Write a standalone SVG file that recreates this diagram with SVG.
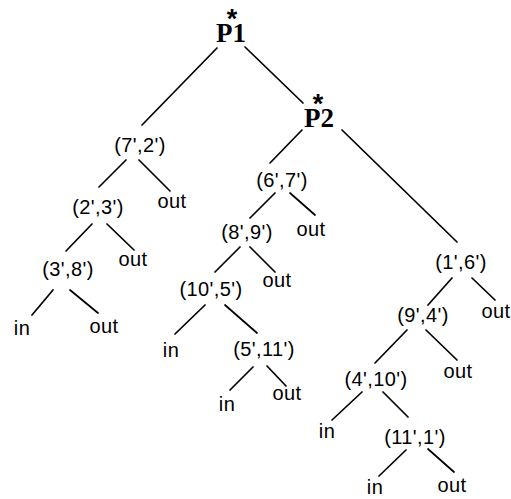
<svg xmlns="http://www.w3.org/2000/svg" width="511" height="499" viewBox="0 0 511 499">
<style>
.lbl{font-family:"Liberation Sans",Arial,sans-serif;font-size:20px;fill:#000;text-anchor:middle;letter-spacing:0.4px}
.p{font-family:"Liberation Serif","Times New Roman",serif;font-size:27px;font-weight:bold;fill:#000;text-anchor:middle}
.ast{font-family:"Liberation Sans",Arial,sans-serif;font-size:27px;font-weight:bold;fill:#000;text-anchor:middle}
.edges line{stroke:#000;stroke-width:1.7;stroke-linecap:round}
</style>
<rect width="511" height="499" fill="#fff"/>
<g class="edges" id="connectors">
<line x1="217" y1="48" x2="142" y2="125"/>
<line x1="245" y1="47" x2="303" y2="103"/>
<line x1="302" y1="130" x2="270" y2="163"/>
<line x1="342" y1="130" x2="457" y2="242"/>
<line x1="126" y1="160" x2="99" y2="187"/>
<line x1="139" y1="160" x2="170" y2="191"/>
<line x1="92" y1="224" x2="66" y2="251"/>
<line x1="107" y1="224" x2="134" y2="250"/>
<line x1="53" y1="290" x2="32" y2="315"/>
<line x1="70" y1="290" x2="98" y2="313"/>
<line x1="275" y1="193" x2="250" y2="218"/>
<line x1="290" y1="193" x2="315" y2="215"/>
<line x1="240" y1="247" x2="215" y2="272"/>
<line x1="250" y1="247" x2="275" y2="272"/>
<line x1="205" y1="305" x2="175" y2="334"/>
<line x1="225" y1="305" x2="257" y2="333"/>
<line x1="253" y1="367" x2="230" y2="390"/>
<line x1="267" y1="366" x2="286" y2="386"/>
<line x1="452" y1="278" x2="428" y2="305"/>
<line x1="472" y1="278" x2="495" y2="300"/>
<line x1="407" y1="330" x2="375" y2="363"/>
<line x1="426" y1="330" x2="457" y2="360"/>
<line x1="362" y1="392" x2="332" y2="420"/>
<line x1="383" y1="392" x2="408" y2="417"/>
<line x1="406" y1="450" x2="379" y2="476"/>
<line x1="428" y1="449" x2="454" y2="472"/>
</g>
<g id="P1"><text class="ast" x="232" y="28">*</text><text class="p" x="231" y="42">P1</text></g>
<g id="P2"><text class="ast" x="318" y="113">*</text><text class="p" x="319" y="127">P2</text></g>
<g id="n72"><text class="lbl" x="140" y="152">(7',2')</text></g>
<g id="n23"><text class="lbl" x="98" y="214">(2',3')</text></g>
<g id="n38"><text class="lbl" x="68" y="276">(3',8')</text></g>
<g id="n67"><text class="lbl" x="282" y="187">(6',7')</text></g>
<g id="n89"><text class="lbl" x="247" y="239">(8',9')</text></g>
<g id="n105"><text class="lbl" x="211" y="296">(10',5')</text></g>
<g id="n511"><text class="lbl" x="264" y="356">(5',11')</text></g>
<g id="n16"><text class="lbl" x="461" y="269">(1',6')</text></g>
<g id="n94"><text class="lbl" x="423" y="322">(9',4')</text></g>
<g id="n410"><text class="lbl" x="376" y="386">(4',10')</text></g>
<g id="n111"><text class="lbl" x="415" y="444">(11',1')</text></g>
<g id="out1"><text class="lbl" x="172" y="208">out</text></g>
<g id="out2"><text class="lbl" x="133" y="266">out</text></g>
<g id="in1"><text class="lbl" x="22" y="335">in</text></g>
<g id="out3"><text class="lbl" x="104" y="333">out</text></g>
<g id="out4"><text class="lbl" x="311" y="236">out</text></g>
<g id="out5"><text class="lbl" x="277" y="287">out</text></g>
<g id="in2"><text class="lbl" x="171" y="357">in</text></g>
<g id="in3"><text class="lbl" x="227" y="411">in</text></g>
<g id="out6"><text class="lbl" x="287" y="400">out</text></g>
<g id="out7"><text class="lbl" x="496" y="318">out</text></g>
<g id="out8"><text class="lbl" x="458" y="378">out</text></g>
<g id="in4"><text class="lbl" x="327" y="438">in</text></g>
<g id="in5"><text class="lbl" x="375" y="494">in</text></g>
<g id="out9"><text class="lbl" x="452" y="492">out</text></g>
</svg>
